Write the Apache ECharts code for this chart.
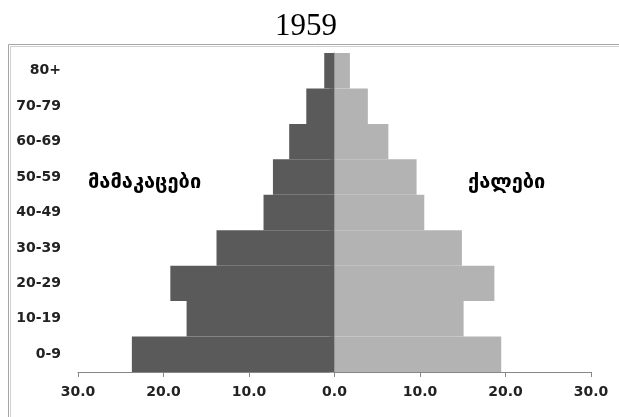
<!DOCTYPE html>
<html>
<head>
<meta charset="utf-8">
<script src="https://cdn.jsdelivr.net/npm/echarts@6/dist/echarts.min.js"></script>
<style>
  html, body { margin: 0; padding: 0; background: #fff; }
  #chart { width: 619px; height: 417px; }
</style>
</head>
<body>
<div id="chart"></div>
<script>
// Age groups, youngest first (drawn bottom to top)
const ageGroups = ['0-9', '10-19', '20-29', '30-39', '40-49', '50-59', '60-69', '70-79', '80+'];
// Share of population, per cent
const men   = [23.7, 17.3, 19.2, 13.8, 8.3, 7.2, 5.3, 3.3, 1.2];
const women = [19.5, 15.1, 18.7, 14.9, 10.5, 9.6, 6.3, 3.9, 1.8];
const xTicks = [-30, -20, -10, 0, 10, 20, 30];

const chart = echarts.init(document.getElementById('chart'), null, { renderer: 'canvas' });

const labelFont = '"DejaVu Sans", Verdana, sans-serif';
const georgianFont = 'bold 20px "DejaVu Sans", sans-serif';

chart.setOption({
  animation: false,
  backgroundColor: '#ffffff',
  title: {
    text: '1959',
    left: 301,
    textAlign: 'center',
    top: 6,
    textStyle: { fontFamily: '"Liberation Serif", "Times New Roman", serif', fontSize: 31, fontWeight: 'normal', color: '#000' }
  },
  graphic: [
    { type: 'rect', shape: { x: 8.5, y: 44.5, width: 640, height: 400 }, style: { fill: 'none', stroke: '#a6a6a6', lineWidth: 1 }, silent: true },
    { type: 'rect', shape: { x: 10.5, y: 46.5, width: 640, height: 400 }, style: { fill: 'none', stroke: '#d0d0d0', lineWidth: 1 }, silent: true },
    { type: 'text', x: 88, y: 183, style: { text: 'მამაკაცები', font: georgianFont, fill: '#000', textVerticalAlign: 'middle', verticalAlign: 'middle' } },
    { type: 'text', x: 468, y: 183, style: { text: 'ქალები', font: georgianFont, fill: '#000', textVerticalAlign: 'middle', verticalAlign: 'middle' } }
  ],
  grid: { left: 78, right: 28, top: 53, bottom: 45, containLabel: false },
  xAxis: {
    type: 'value',
    min: xTicks[0],
    max: xTicks[xTicks.length - 1],
    interval: 10,
    splitLine: { show: false },
    axisLine: { show: true, lineStyle: { color: '#868686', width: 1 } },
    axisTick: { show: true, length: 5, lineStyle: { color: '#868686' } },
    axisLabel: {
      margin: 13,
      fontFamily: labelFont, fontSize: 14, fontWeight: 'bold', color: '#222',
      formatter: v => Math.abs(v).toFixed(1)
    }
  },
  yAxis: [
    {
      type: 'category',
      data: ageGroups,
      axisLine: { show: false, onZero: false },
      axisTick: { show: false },
      axisLabel: { margin: 17, fontFamily: labelFont, fontSize: 14, fontWeight: 'bold', color: '#222' }
    },
    {
      type: 'category',
      data: ageGroups,
      position: 'left',
      axisLine: { show: true, onZero: true, lineStyle: { color: '#a0a0a0' } },
      axisTick: { show: true, length: 5, lineStyle: { color: '#a0a0a0' } },
      axisLabel: { show: false }
    }
  ],
  series: [
    {
      name: 'მამაკაცები',
      type: 'bar',
      stack: 'pop',
      data: men.map(v => -v),
      barCategoryGap: '0%',
      itemStyle: { color: '#5a5a5a' },
      z: 1
    },
    {
      name: 'ქალები',
      type: 'bar',
      stack: 'pop',
      data: women,
      barCategoryGap: '0%',
      itemStyle: { color: '#b3b3b3' },
      z: 1
    }
  ]
});
</script>
</body>
</html>
